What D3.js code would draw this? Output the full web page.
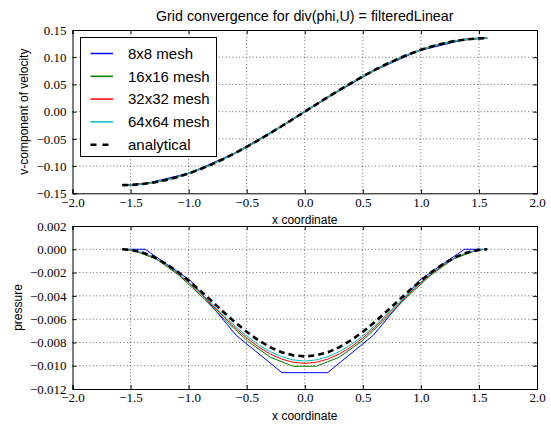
<!DOCTYPE html>
<html><head><meta charset="utf-8">
<script src="https://cdn.jsdelivr.net/npm/d3@7"></script>
<style>body{margin:0;background:#fff}svg{display:block}.tick text{font-family:'Liberation Serif','DejaVu Serif',serif !important;}</style>
</head><body><svg id="c" width="551" height="426"></svg>
<script>
// ---------- data ----------
const title = "Grid convergence for div(phi,U) = filteredLinear";
const seriesNames = ["8x8 mesh", "16x16 mesh", "32x32 mesh", "64x64 mesh", "analytical"];
const xTicks = [-2.0, -1.5, -1.0, -0.5, 0.0, 0.5, 1.0, 1.5, 2.0];
const vTicks = [-0.15, -0.10, -0.05, 0.00, 0.05, 0.10, 0.15];
const pTicks = [-0.012, -0.010, -0.008, -0.006, -0.004, -0.002, 0.000, 0.002];

// 8x8 mesh nodes
const x8 = [-1.571, -1.374, -0.982, -0.589, -0.196, 0.196, 0.589, 0.982, 1.374, 1.571];
const v8 = [-0.135, -0.1327, -0.1123, -0.0750, -0.0263, 0.0263, 0.0750, 0.1123, 0.1327, 0.135];
const p8 = [0, 0, -0.0027, -0.0074, -0.0106, -0.0106, -0.0074, -0.0027, 0, 0];
// 16x16 mesh nodes
const x16 = [-1.571, -1.473, -1.276, -1.080, -0.884, -0.687, -0.491, -0.295, -0.098,
             0.098, 0.295, 0.491, 0.687, 0.884, 1.080, 1.276, 1.473, 1.571];
const v16 = [-0.135, -0.1344, -0.1292, -0.1191, -0.1044, -0.0856, -0.0637, -0.0392, -0.0132,
             0.0132, 0.0392, 0.0637, 0.0856, 0.1044, 0.1191, 0.1292, 0.1344, 0.135];
const p16 = [0, -0.0001, -0.00085, -0.00226, -0.00408, -0.00606, -0.0079, -0.00928, -0.01005,
             -0.01005, -0.00928, -0.0079, -0.00606, -0.00408, -0.00226, -0.00085, -0.0001, 0];
// fine sampling (32x32, 64x64, analytical)
const xF = [-1.571, -1.5, -1.4, -1.3, -1.2, -1.1, -1.0, -0.9, -0.8, -0.7, -0.6, -0.5, -0.4, -0.3, -0.2, -0.1, 0.0,
            0.1, 0.2, 0.3, 0.4, 0.5, 0.6, 0.7, 0.8, 0.9, 1.0, 1.1, 1.2, 1.3, 1.4, 1.5, 1.571];
const vF = [-0.135, -0.1347, -0.1330, -0.1301, -0.1258, -0.1203, -0.1136, -0.1057, -0.0968, -0.0870, -0.0762, -0.0647, -0.0526, -0.0399, -0.0268, -0.0135, 0,
            0.0135, 0.0268, 0.0399, 0.0526, 0.0647, 0.0762, 0.0870, 0.0968, 0.1057, 0.1136, 0.1203, 0.1258, 0.1301, 0.1330, 0.1347, 0.135];
const p32 = [0, -0.00005, -0.00028, -0.0007, -0.0013, -0.00203, -0.00288, -0.00381, -0.00478, -0.00577, -0.00673, -0.00762, -0.00838, -0.00898, -0.00943, -0.0097, -0.0098,
             -0.0097, -0.00943, -0.00898, -0.00838, -0.00762, -0.00673, -0.00577, -0.00478, -0.00381, -0.00288, -0.00203, -0.0013, -0.0007, -0.00028, -0.00005, 0];
const p64 = [0, -0.00005, -0.00028, -0.00069, -0.00127, -0.00198, -0.00282, -0.00373, -0.00468, -0.00565, -0.00659, -0.00744, -0.00818, -0.00878, -0.00922, -0.0095, -0.0096,
             -0.0095, -0.00922, -0.00878, -0.00818, -0.00744, -0.00659, -0.00565, -0.00468, -0.00373, -0.00282, -0.00198, -0.00127, -0.00069, -0.00028, -0.00005, 0];
const pA = [0, -0.00005, -0.00027, -0.00066, -0.00121, -0.00189, -0.00269, -0.00355, -0.00447, -0.00538, -0.00627, -0.00709, -0.00781, -0.0084, -0.00884, -0.00911, -0.0092,
            -0.00911, -0.00884, -0.0084, -0.00781, -0.00709, -0.00627, -0.00538, -0.00447, -0.00355, -0.00269, -0.00189, -0.00121, -0.00066, -0.00027, -0.00005, 0];

const colors = ["#0000ff", "#008000", "#ff0000", "#00bfbf", "#000000"];

// ---------- drawing ----------
const svg = d3.select("#c");
const L = 72.5, R = 537;
const x = d3.scaleLinear().domain([-2, 2]).range([L, R]);
const panels = [
  {top: 30, bottom: 193.3, domain: [-0.15, 0.15], ticks: vTicks, fmt: d3.format(".2f"), label: "v-component of velocity", labelX: 24,
   series: [[x8, v8], [x16, v16], [xF, vF], [xF, vF], [xF, vF]]},
  {top: 226, bottom: 389, domain: [-0.012, 0.002], ticks: pTicks, fmt: d3.format(".3f"), label: "pressure", labelX: 18,
   series: [[x8, p8], [x16, p16], [xF, p32], [xF, p64], [xF, pA]]}
];
const serif = "'Liberation Serif', 'DejaVu Serif', serif";
const sans = "'Liberation Sans', Arial, sans-serif";

panels.forEach((P, pi) => {
  const y = d3.scaleLinear().domain(P.domain).range([P.bottom, P.top]);
  const g = svg.append("g");
  // grid
  g.append("g").selectAll("line").data(xTicks.slice(1, -1)).join("line")
    .attr("x1", d => x(d)).attr("x2", d => x(d)).attr("y1", P.top).attr("y2", P.bottom)
    .attr("stroke", "#000").attr("stroke-width", 0.6).attr("stroke-dasharray", "1,2.4");
  g.append("g").selectAll("line").data(P.ticks.slice(1, -1)).join("line")
    .attr("y1", d => y(d)).attr("y2", d => y(d)).attr("x1", L).attr("x2", R)
    .attr("stroke", "#000").attr("stroke-width", 0.6).attr("stroke-dasharray", "1,2.4");
  // series
  const clipId = "clip" + pi;
  svg.append("clipPath").attr("id", clipId).append("rect")
    .attr("x", L).attr("y", P.top).attr("width", R - L).attr("height", P.bottom - P.top);
  const line = d3.line().x(d => x(d[0])).y(d => y(d[1]));
  P.series.forEach((s, i) => {
    const pts = s[0].map((xv, k) => [xv, s[1][k]]);
    const path = g.append("path").datum(pts).attr("d", line).attr("fill", "none")
      .attr("clip-path", `url(#${clipId})`)
      .attr("stroke", colors[i]).attr("stroke-width", i === 4 ? 2.6 : (pi === 0 ? 1.3 : 1));
    if (i === 4) path.attr("stroke-dasharray", "6,4");
  });
  // axes
  const fmtX = d3.format(".1f");
  g.append("g").attr("transform", `translate(0,${P.bottom})`)
    .call(d3.axisBottom(x).tickValues(xTicks).tickSize(-4).tickPadding(4).tickFormat(fmtX));
  g.append("g").attr("transform", `translate(0,${P.top})`)
    .call(d3.axisTop(x).tickValues(xTicks).tickSize(-4).tickFormat(""));
  g.append("g").attr("transform", `translate(${L},0)`)
    .call(d3.axisLeft(y).tickValues(P.ticks).tickSize(-4).tickPadding(6).tickFormat(P.fmt));
  g.append("g").attr("transform", `translate(${R},0)`)
    .call(d3.axisRight(y).tickValues(P.ticks).tickSize(-4).tickFormat(""));
  g.selectAll(".domain").attr("stroke", "#000").attr("stroke-width", 1);
  g.selectAll(".tick line").attr("stroke", "#000");
  g.selectAll(".tick text").style("font-family", serif).attr("font-size", 13).attr("fill", "#000");
  // labels
  svg.append("text").attr("x", (L + R) / 2).attr("y", P.bottom + 31).attr("text-anchor", "middle")
    .attr("font-family", sans).attr("font-size", 12).text("x coordinate");
  svg.append("text").attr("transform", `translate(${P.labelX},${(P.top + P.bottom) / 2}) rotate(-90)`)
    .attr("text-anchor", "middle").attr("dy", "0.35em")
    .attr("font-family", sans).attr("font-size", 12).text(P.label);
});

// title
svg.append("text").attr("x", (L + R) / 2).attr("y", 21).attr("text-anchor", "middle")
  .attr("font-family", sans).attr("font-size", 14.3).text(title);

// legend
const lg = svg.append("g");
lg.append("rect").attr("x", 80.5).attr("y", 37.5).attr("width", 136).attr("height", 119)
  .attr("fill", "#fff").attr("stroke", "#000").attr("stroke-width", 1);
seriesNames.forEach((name, i) => {
  const yy = 53.5 + i * 22.8;
  const ln = lg.append("line").attr("x1", 90.5).attr("x2", 113).attr("y1", yy).attr("y2", yy)
    .attr("stroke", colors[i]).attr("stroke-width", i === 4 ? 2.6 : 1.5);
  if (i === 4) ln.attr("stroke-dasharray", "6,6");
  lg.append("text").attr("x", 128).attr("y", yy).attr("dy", "0.35em")
    .attr("font-family", sans).attr("font-size", 15).text(name);
});
</script></body></html>
